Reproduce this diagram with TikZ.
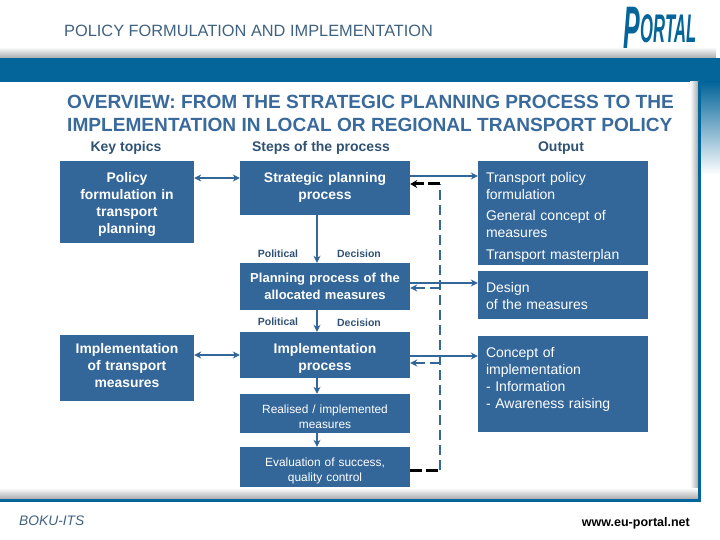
\documentclass[tikz,border=0pt]{standalone}
\usepackage{fontspec}
\setmainfont{Liberation Sans}
\usetikzlibrary{arrows.meta,positioning,calc}
\definecolor{PortalBand}{HTML}{03659A}
\definecolor{PortalBox}{HTML}{336699}
\definecolor{PortalTitle}{HTML}{3A6A9C}
\definecolor{PortalHead}{HTML}{3F6280}
\definecolor{PortalDark}{HTML}{2F5274}
\definecolor{PortalShade}{HTML}{A8ABAE}

\begin{document}
\begin{tikzpicture}[x=1pt,y=-1pt]
    \tikzset{
      stepbox/.style={fill=PortalBox,text=white,minimum width=170pt,text width=162pt,inner xsep=4pt,inner ysep=0pt,align=center,
        font=\fontsize{13.9}{17}\selectfont\bfseries},
      topicbox/.style={stepbox,minimum width=134pt,text width=126pt},
      planbox/.style={stepbox,font=\fontsize{13}{16.5}\selectfont\bfseries},
      outbox/.style={stepbox,align=left,text width=154pt,inner xsep=8pt,font=\fontsize{14}{17}\selectfont},
      smallbox/.style={stepbox,font=\fontsize{11.9}{15}\selectfont},
      headtext/.style={text=PortalDark,font=\fontsize{14}{16}\selectfont\bfseries,inner sep=0pt},
      sidetext/.style={text=PortalDark,font=\fontsize{10.5}{12}\selectfont\bfseries,inner sep=0pt},
      flow/.style={-{Stealth[length=7pt,width=7pt]},PortalBox,line width=1.8pt},
      flowboth/.style={{Stealth[length=7pt,width=7pt]}-{Stealth[length=7pt,width=7pt]},PortalBox,line width=1.8pt},
      back/.style={PortalBox,line width=2.6pt,dash pattern=on 10pt off 5pt},
      backblack/.style={black,line width=3pt,dash pattern=on 12pt off 4pt}
    }
    \useasboundingbox (0,0) rectangle (720,540);
    % frame and band
    \shade[top color=white,bottom color=PortalShade] (0,47) rectangle (716,58);
    \fill[PortalBand] (0,58) rectangle (720,82);
    \shade[top color=PortalBand,bottom color=white] (701,82) rectangle (720,175);
    \shade[left color=white,right color=PortalShade] (690,82) rectangle (698,499);
    \shade[top color=white,bottom color=PortalShade] (0,488) rectangle (698,499);
    \fill[PortalBand] (698,82) rectangle (701,502);
    \fill[PortalBand] (0,499) rectangle (701,502);
    \node[text=PortalHead,font=\fontsize{16.35}{18}\selectfont,inner sep=0pt,anchor=west] (chapter) at (64,31) {POLICY FORMULATION AND IMPLEMENTATION};
    \node[text=PortalBand,font=\fontsize{32}{32}\selectfont\bfseries\itshape,inner sep=0pt,xscale=.52,yscale=1.25] (logo) at (660,28) {\raisebox{-5pt}{\fontsize{48}{48}\selectfont P}ORTAL};
    \node[text=PortalTitle,font=\fontsize{19.1}{23}\selectfont\bfseries,inner sep=0pt,align=left,anchor=west] (title) at (67,113) {OVERVIEW: FROM THE STRATEGIC PLANNING PROCESS TO THE\\IMPLEMENTATION IN LOCAL OR REGIONAL TRANSPORT POLICY};
    \node[headtext] (keytopics) at (126,148) {Key topics};
    \node[headtext] (steps) at (321,148) {Steps of the process};
    \node[headtext] (output) at (561,148) {Output};
    % left column
    \node[topicbox,minimum height=82pt] (policy) at (127,202) {\rule{0pt}{14pt}Policy\\formulation in\\transport\\planning};
    \node[topicbox,minimum height=66pt] (implementation) at (127,368) {Implementation\\of transport\\measures\\[-12pt]\mbox{}};
    % middle column
    \node[stepbox,minimum height=54pt] (strategic) at (325,188) {Strategic planning\\process\\[-13pt]\mbox{}};
    \node[planbox,minimum height=47pt] (planning) at (325,286.5) {Planning process of the\\allocated measures};
    \node[stepbox,minimum height=46pt] (implprocess) at (325,355) {\rule{0pt}{16pt}Implementation\\process};
    \node[smallbox,minimum height=39pt] (realised) at (325,413.5) {\rule{0pt}{15pt}Realised / implemented\\measures};
    \node[smallbox,minimum height=40pt] (evaluation) at (325,467) {\rule{0pt}{16pt}Evaluation of success,\\quality control};
    % right column
    \node[outbox,minimum height=104pt] (formulation) at (563,213) {\rule{0pt}{18pt}Transport policy\\formulation\\[4pt]General concept of\\measures\\[5pt]Transport masterplan};
    \node[outbox,minimum height=48pt] (design) at (563,295) {\rule{0pt}{12pt}Design\\of the measures};
    \node[outbox,minimum height=96pt] (concept) at (563,384) {\rule{0pt}{14pt}Concept of\\implementation\\- Information\\- Awareness raising\\\mbox{}};
    % labels
    \node[sidetext] (pol1) at (278,254) {Political};
    \node[sidetext] (dec1) at (359,254) {Decision};
    \node[sidetext] (pol2) at (278,322) {Political};
    \node[sidetext] (dec2) at (359,323) {Decision};
    \node[text=PortalHead,font=\fontsize{13.8}{16}\selectfont\itshape,inner sep=0pt,anchor=west] (boku) at (19,521) {BOKU-ITS};
    \node[text=black,font=\fontsize{12.5}{14}\selectfont\bfseries,inner sep=0pt,anchor=east] (web) at (690,523) {www.eu-portal.net};
    % connectors
    \coordinate (policylink) at (217,178);
    \draw[flowboth] (policylink -| policy.east) -- (policylink -| strategic.west);
    \draw[flowboth] (implementation.east |- implprocess.west) -- (implprocess.west);
    \draw[flow] ([yshift=12pt]strategic.east) -- ([yshift=12pt]strategic.east -| formulation.west);
    \draw[flow] ([yshift=3.5pt]planning.east) -- ([yshift=3.5pt]planning.east -| design.west);
    \draw[flow] ([yshift=-1pt]implprocess.east) -- ([yshift=-1pt]implprocess.east -| concept.west);
    \draw[flow] ([xshift=-8pt]strategic.south) -- ([xshift=-8pt]planning.north);
    \draw[flow] ([xshift=-8pt]planning.south) -- ([xshift=-8pt]implprocess.north);
    \draw[flow] ([xshift=-8pt]implprocess.south) -- ([xshift=-8pt]realised.north);
    \draw[flow] ([xshift=-8pt]realised.south) -- ([xshift=-8pt]evaluation.north);
    % feedback
    \coordinate (fbbottom) at (440,470);
    \coordinate (fbtop) at (440,184);
    \coordinate (fbplan) at (440,288);
    \coordinate (fbimpl) at (440,363);
    \draw[backblack] (fbbottom -| evaluation.east) -- (fbbottom);
    \draw[back] (fbbottom) -- (fbtop);
    \draw[backblack,-{Stealth[length=7pt,width=8pt]}] (fbtop) -- (fbtop -| strategic.east);
    \draw[back,-{Stealth[length=7pt,width=7pt]},line width=1.8pt] (fbplan) -- (fbplan -| planning.east);
    \draw[back,-{Stealth[length=7pt,width=7pt]},line width=1.8pt] (fbimpl) -- (fbimpl -| implprocess.east);
  \end{tikzpicture}
\end{document}
